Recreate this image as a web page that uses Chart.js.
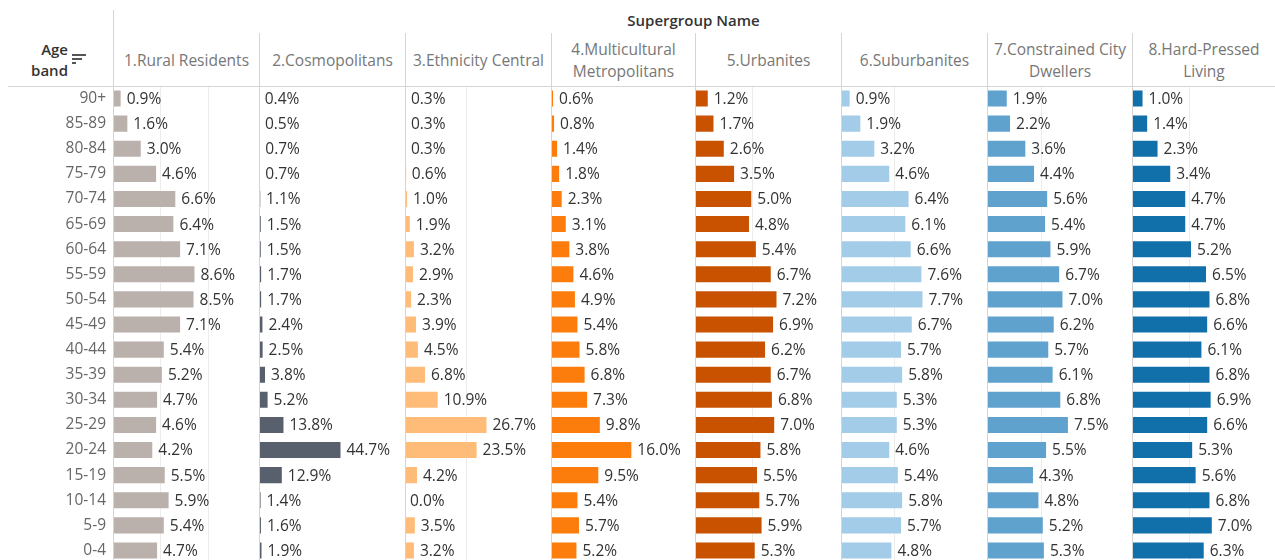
<!DOCTYPE html>
<html>
<head>
<meta charset="utf-8">
<script src="https://cdn.jsdelivr.net/npm/chart.js@4.4.1/dist/chart.umd.min.js"></script>
<style>
  html, body { margin: 0; padding: 0; background: #fff; overflow: hidden; }
  body { width: 1275px; height: 560px; position: relative; font-family: "Open Sans", sans-serif; }
  .abs { position: absolute; }
  .vline { position: absolute; width: 1px; background: #d4d4d4; }
  .hline { position: absolute; height: 1px; background: #d4d4d4; }
  .colhead { position: absolute; top: 34px; height: 52px; display: flex; align-items: center; justify-content: center;
             text-align: center; font-size: 15.5px; line-height: 22px; color: #777; padding: 0 4px; box-sizing: border-box; }
  canvas { position: absolute; }
</style>
</head>
<body>
<div class="abs" style="left:0;top:10px;width:1275px;text-align:center;padding-left:112px;box-sizing:border-box;font-size:15px;font-weight:600;color:#333;">Supergroup Name</div>
<div class="abs" style="left:0;top:39px;width:68px;text-align:right;font-size:15px;font-weight:600;color:#333;line-height:21px;">Age<br>band</div>
<svg class="abs" style="left:72px;top:54px" width="15" height="13">
  <rect x="0" y="0" width="14" height="2" fill="#555"/>
  <rect x="0" y="4" width="10" height="2" fill="#555"/>
  <rect x="0" y="8" width="4" height="2" fill="#555"/>
</svg>
<div id="heads"></div>

<canvas id="c0" width="259" height="477" style="left:0;top:86px"></canvas>
<canvas id="c1" width="146" height="477" style="left:259px;top:86px"></canvas>
<canvas id="c2" width="146" height="477" style="left:405px;top:86px"></canvas>
<canvas id="c3" width="144" height="477" style="left:551px;top:86px"></canvas>
<canvas id="c4" width="146" height="477" style="left:695px;top:86px"></canvas>
<canvas id="c5" width="146" height="477" style="left:841px;top:86px"></canvas>
<canvas id="c6" width="145" height="477" style="left:987px;top:86px"></canvas>
<canvas id="c7" width="143" height="477" style="left:1132px;top:86px"></canvas>
<div id="lines"></div>

<script>
// age bands (rows)
var ages = ['90+','85-89','80-84','75-79','70-74','65-69','60-64','55-59','50-54','45-49',
            '40-44','35-39','30-34','25-29','20-24','15-19','10-14','5-9','0-4'];

// supergroup names (columns)
var groups = ['1.Rural Residents', '2.Cosmopolitans', '3.Ethnicity Central', '4.Multicultural Metropolitans',
              '5.Urbanites', '6.Suburbanites', '7.Constrained City Dwellers', '8.Hard-Pressed Living'];

// % of population in each age band
var rural       = [0.9,1.6,3.0,4.6,6.6,6.4,7.1,8.6,8.5,7.1,5.4,5.2,4.7,4.6,4.2,5.5,5.9,5.4,4.7];
var cosmo       = [0.4,0.5,0.7,0.7,1.1,1.5,1.5,1.7,1.7,2.4,2.5,3.8,5.2,13.8,44.7,12.9,1.4,1.6,1.9];
var ethnicity   = [0.3,0.3,0.3,0.6,1.0,1.9,3.2,2.9,2.3,3.9,4.5,6.8,10.9,26.7,23.5,4.2,0.0,3.5,3.2];
var multi       = [0.6,0.8,1.4,1.8,2.3,3.1,3.8,4.6,4.9,5.4,5.8,6.8,7.3,9.8,16.0,9.5,5.4,5.7,5.2];
var urbanites   = [1.2,1.7,2.6,3.5,5.0,4.8,5.4,6.7,7.2,6.9,6.2,6.7,6.8,7.0,5.8,5.5,5.7,5.9,5.3];
var suburb      = [0.9,1.9,3.2,4.6,6.4,6.1,6.6,7.6,7.7,6.7,5.7,5.8,5.3,5.3,4.6,5.4,5.8,5.7,4.8];
var constrained = [1.9,2.2,3.6,4.4,5.6,5.4,5.9,6.7,7.0,6.2,5.7,6.1,6.8,7.5,5.5,4.3,4.8,5.2,5.3];
var hardPressed = [1.0,1.4,2.3,3.4,4.7,4.7,5.2,6.5,6.8,6.6,6.1,6.8,6.9,6.6,5.3,5.6,6.8,7.0,6.3];

var series = [rural, cosmo, ethnicity, multi, urbanites, suburb, constrained, hardPressed];
var colors = ['#bab0ac','#57606c','#ffbc79','#fc7d0b','#c85200','#a3cce9','#5fa2ce','#1170aa'];
var gridStep = [5, 50, 20, 20, 5, 5, 5, 5];

// column positions
var colLeft = [113, 259, 405, 551, 695, 841, 987, 1132, 1275];

// headers and divider lines
var heads = document.getElementById('heads');
var lines = document.getElementById('lines');
for (var i = 0; i < groups.length; i++) {
    var h = document.createElement('div');
    h.className = 'colhead';
    h.style.left = (colLeft[i] + 1) + 'px';
    h.style.width = (colLeft[i + 1] - colLeft[i] - 1) + 'px';
    h.textContent = groups[i];
    heads.appendChild(h);

    var v = document.createElement('div');
    v.className = 'vline';
    v.style.left = colLeft[i] + 'px';
    v.style.top = (i == 0 ? 10 : 33) + 'px';
    v.style.height = (i == 0 ? 550 : 527) + 'px';
    lines.appendChild(v);
}
var hl = document.createElement('div');
hl.className = 'hline';
hl.style.left = '8px';
hl.style.top = '86px';
hl.style.width = '1267px';
lines.appendChild(hl);

// draws the % labels next to each bar
var valueLabels = {
    id: 'valueLabels',
    afterDatasetsDraw: function(chart) {
        var ctx = chart.ctx;
        var meta = chart.getDatasetMeta(0);
        var data = chart.data.datasets[0].data;
        ctx.save();
        ctx.font = '15.5px "Open Sans"';
        ctx.fillStyle = '#333';
        ctx.textBaseline = 'middle';
        ctx.textAlign = 'left';
        meta.data.forEach(function(bar, k) {
            ctx.fillText(data[k].toFixed(1) + '%', bar.x + 5, bar.y + 1);
        });
        ctx.restore();
    }
};

Chart.defaults.font.family = '"Open Sans", sans-serif';

function makeChart(n) {
    var vals = series[n];
    var first = (n == 0);
    new Chart(document.getElementById('c' + n), {
        type: 'bar',
        data: {
            labels: ages,
            datasets: [{
                data: vals,
                backgroundColor: colors[n],
                borderColor: 'rgba(255,255,255,0.35)',
                borderWidth: 1,
                categoryPercentage: 1,
                barPercentage: 0.72
            }]
        },
        options: {
            indexAxis: 'y',
            responsive: false,
            animation: false,
            layout: { padding: 0 },
            plugins: { legend: { display: false }, tooltip: { enabled: false } },
            scales: {
                x: {
                    min: 0,
                    max: Math.max.apply(null, vals) * 1.77,
                    position: 'top',
                    ticks: { display: false, stepSize: gridStep[n] },
                    grid: {
                        drawTicks: false,
                        color: function(c) { return c.tick.value == 0 ? 'rgba(0,0,0,0)' : '#ececec'; }
                    },
                    border: { display: false }
                },
                y: {
                    display: first,
                    afterFit: function(axis) {
                        if (first) axis.width = 113;
                        axis.paddingTop = 0;
                        axis.paddingBottom = 0;
                    },
                    ticks: { color: '#666', font: { size: 15.5 }, padding: 7 },
                    grid: { display: false, drawTicks: false },
                    border: { display: false }
                }
            }
        },
        plugins: [valueLabels]
    });
}

for (var n = 0; n < series.length; n++) makeChart(n);
</script>
</body>
</html>
